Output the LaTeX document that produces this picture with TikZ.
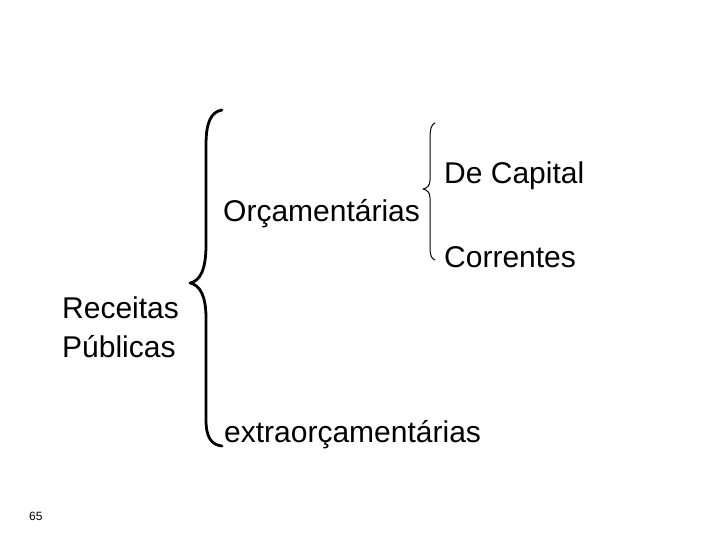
\documentclass[tikz,border=0pt]{standalone}
\usepackage{fontspec}
\setmainfont{Liberation Sans}
\begin{document}
\begin{tikzpicture}[x=1pt,y=-1pt,
  lbl/.style={anchor=base west,inner sep=0pt,font=\fontsize{30}{36}\selectfont},
  bigbrace/.style={line width=2.8pt,line cap=round,line join=round},
  smallbrace/.style={line width=1pt,line cap=round,line join=round}]
\useasboundingbox (0,0) rectangle (720,540);
\node[lbl] (cap) at (444,184) {De Capital};
\node[lbl] (orc) at (223,222) {Orçamentárias};
\node[lbl] (cor) at (444,267) {Correntes};
\node[lbl] (rec) at (62,318) {Receitas};
\node[lbl] (pub) at (62,357) {Públicas};
\node[lbl] (ext) at (224,442) {extraorçamentárias};
\node[anchor=base west,inner sep=0pt,font=\fontsize{12}{14}\selectfont] (pg) at (29,520) {65};
\draw[bigbrace] (222,110) .. controls (211,112) and (206,122) .. (206,145)
  -- (206,245) .. controls (206,270) and (200,281) .. (190,283)
  .. controls (200,285) and (206,296) .. (206,318)
  -- (206,420) .. controls (206,438) and (212,445) .. (222,446);
\draw[smallbrace] (435,123) .. controls (432,124) and (430,128) .. (430,138)
  -- (430,180) .. controls (430,186) and (427,188) .. (423,189)
  .. controls (427,190) and (430,192) .. (430,198)
  -- (430,248) .. controls (430,256) and (432,259) .. (435,260);
\end{tikzpicture}
\end{document}
